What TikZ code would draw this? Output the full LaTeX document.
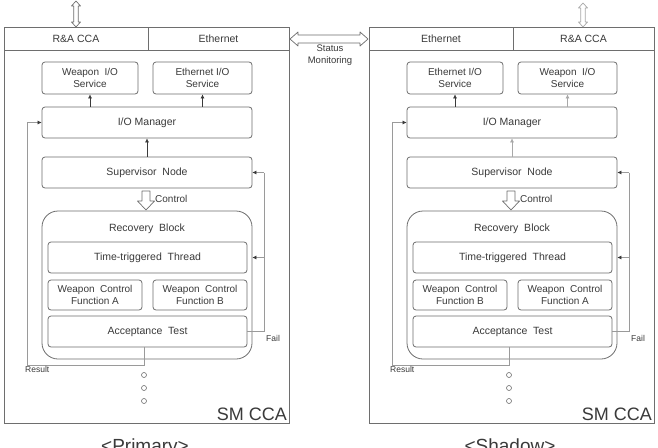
\documentclass[tikz,border=0pt]{standalone}
\usepackage{fontspec}
\setmainfont{Liberation Sans}
\usetikzlibrary{arrows.meta}
\definecolor{ln}{HTML}{6E6E6E}
\definecolor{tx}{HTML}{3A3A3A}
\definecolor{fb}{HTML}{9A9A9A}
\definecolor{lg}{HTML}{A8A8A8}
\tikzset{
  box/.style={draw=ln, line width=0.8pt, rounded corners=3pt, text=tx,
    font=\fontsize{10}{12}\selectfont, align=center, inner sep=0pt},
  frame/.style={draw=ln, line width=0.9pt},
  conn/.style={line width=0.6pt, -{Latex[length=4pt,width=4pt]}},
  fback/.style={draw=fb, line width=0.5pt},
  tipped/.style={-{Latex[length=4pt,width=4pt,color=tx]}},
  hollow/.style={draw=ln, line width=0.7pt, fill=white, line join=round},
  lbl/.style={text=tx, inner sep=0pt},
  dot/.style={circle, draw=ln, line width=0.6pt, minimum size=5pt, inner sep=0pt},
}
% vertical hollow double arrow: colour, x, y top, y bottom
\newcommand\vdarrow[4]{%
  \draw[hollow, draw=#1] (#2,#3) -- (#2+4.5,#3+5) -- (#2+2.3,#3+5) -- (#2+2.3,#4-5)
    -- (#2+4.5,#4-5) -- (#2,#4) -- (#2-4.5,#4-5) -- (#2-2.3,#4-5) -- (#2-2.3,#3+5)
    -- (#2-4.5,#3+5) -- cycle;}
\newcommand\armc{tx}
% panel: prefix, xshift, hdr L, hdr R, IO L, IO R, fn L, fn R, caption
\newcommand\panel[9]{%
\begin{scope}[xshift=#2]
  \node[frame, minimum width=285pt, minimum height=396pt, anchor=north west, inner sep=0pt] (#1frame) at (4,27) {};
  \draw[frame] (4,50) -- (289,50);
  \draw[frame] (148,27) -- (148,50);
  \node[lbl, font=\fontsize{10.5}{12}\selectfont] (#1hl) at (76,38.5) {#3};
  \node[lbl, font=\fontsize{10.5}{12}\selectfont] (#1hr) at (218.5,38.5) {#4};
  \node[box, minimum width=96pt, minimum height=32pt] (#1wio) at (90,78) {#5};
  \node[box, minimum width=99pt, minimum height=32pt] (#1eio) at (202.5,78) {#6};
  \node[box, minimum width=210pt, minimum height=31pt, font=\fontsize{10.5}{12}\selectfont] (#1iom) at (147,122.5) {I/O Manager};
  \node[box, minimum width=210pt, minimum height=31pt, font=\fontsize{10.5}{12}\selectfont] (#1sup) at (147,172.5) {Supervisor\ \ Node};
  \node[box, minimum width=210pt, minimum height=148pt, rounded corners=16pt] (#1rb) at (147,285) {};
  \node[lbl, font=\fontsize{10.5}{12}\selectfont] (#1rbt) at (147,229) {Recovery\ \ Block};
  \node[box, minimum width=199pt, minimum height=31pt, font=\fontsize{10.5}{12}\selectfont] (#1ttt) at (147.5,257.5) {Time-triggered\ \ Thread};
  \node[box, minimum width=94pt, minimum height=30pt] (#1fa) at (95,295) {Weapon\ \ Control\\Function #7};
  \node[box, minimum width=94pt, minimum height=30pt] (#1fb) at (200,295) {Weapon\ \ Control\\Function #8};
  \node[box, minimum width=199pt, minimum height=31pt, font=\fontsize{10.5}{12}\selectfont] (#1at) at (147.5,331.5) {Acceptance\ \ Test};
  % I/O manager to services
  \draw[conn, draw=tx, color=tx] (#1wio.south |- #1iom.north) -- (#1wio.south);
  \draw[conn, draw=\armc, color=\armc] (#1eio.south |- #1iom.north) -- (#1eio.south);
  \draw[conn, draw=\armc, color=\armc] (#1sup.north) -- (#1iom.south);
  % control arrow
  \draw[hollow] (142,191) -- (150,191) -- (150,201) -- (154.5,201) -- (146,210) -- (137.5,201) -- (142,201) -- cycle;
  \node[lbl, anchor=west, font=\fontsize{10}{12}\selectfont] (#1ctl) at (155,198.5) {Control};
  % result feedback
  \coordinate (#1r1) at (144,365);
  \coordinate (#1r2) at (27,365);
  \draw[fback] (#1at.south -| #1r1) -- (#1r1) -- (#1r2) -- (#1r2 |- #1iom.west);
  \draw[fback, tipped] (#1r2 |- #1iom.west) -- (#1iom.west);
  \node[lbl, anchor=north west, font=\fontsize{8.5}{10}\selectfont] (#1res) at (25,366.5) {Result};
  % fail feedback
  \coordinate (#1f) at (264,331.5);
  \draw[fback] (#1at.east) -- (#1f) -- (#1f |- #1sup.east);
  \draw[fback, tipped] (#1f |- #1sup.east) -- (#1sup.east);
  \draw[fback, tipped] (#1f |- #1ttt.east) -- (#1rb.east |- #1ttt.east);
  \node[lbl, anchor=west, font=\fontsize{8.5}{10}\selectfont] (#1fail) at (266,338) {Fail};
  % dots
  \node[dot] (#1d1) at (144,375) {};
  \node[dot] (#1d2) at (144,388) {};
  \node[dot] (#1d3) at (144,401) {};
  \node[lbl, anchor=base east, font=\fontsize{18}{20}\selectfont] (#1sm) at (287,420) {SM CCA};
  \node[lbl, anchor=base, font=\fontsize{19}{22}\selectfont] (#1cap) at (145,452) {#9};
\end{scope}}
\begin{document}
\begin{tikzpicture}[x=1pt, y=-1pt]
  \useasboundingbox (0,0) rectangle (658,447);
  \fill[white] (0,0) rectangle (658,447);
  \renewcommand\armc{tx}
  \panel{L-}{0}{R\&A CCA}{Ethernet}{Weapon\ \ I/O\\Service}{Ethernet I/O\\Service}{A}{B}{\textless Primary\textgreater}
  \renewcommand\armc{lg}
  \panel{R-}{365}{Ethernet}{R\&A CCA}{Ethernet I/O\\Service}{Weapon\ \ I/O\\Service}{B}{A}{\textless Shadow\textgreater}
  % top external arrows
  \vdarrow{ln}{76}{1}{27}
  \vdarrow{lg}{583}{3}{27}
  % status monitoring double arrow
  \draw[hollow] (290,39) -- (298,32) -- (298,35) -- (360,35) -- (360,32) -- (368,39)
    -- (360,46) -- (360,43) -- (298,43) -- (298,46) -- cycle;
  \node[lbl, align=center, font=\fontsize{9.5}{12}\selectfont] (stat) at (330,55.5) {Status\\Monitoring};
\end{tikzpicture}
\end{document}
